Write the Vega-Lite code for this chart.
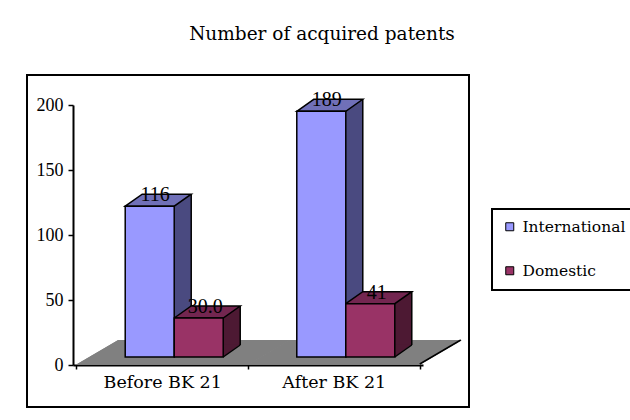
{
  "$schema": "https://vega.github.io/schema/vega-lite/v6.json",
  "width": 442,
  "height": 332,
  "autosize": {"type": "none"},
  "padding": {"left": 27, "top": 75, "right": 161, "bottom": 13},
  "background": "white",
  "title": {
    "text": "Number of acquired patents",
    "font": "DejaVu Serif",
    "fontSize": 18.5,
    "fontWeight": "normal",
    "color": "black",
    "anchor": "middle",
    "frame": "group",
    "dx": 74,
    "offset": 17,
    "baseline": "alphabetic"
  },
  "data": {
    "values": [
      {"period": "Before BK 21", "type": "International", "patents": 116, "label": "116"},
      {"period": "Before BK 21", "type": "Domestic", "patents": 30.0, "label": "30.0"},
      {"period": "After BK 21", "type": "International", "patents": 189, "label": "189"},
      {"period": "After BK 21", "type": "Domestic", "patents": 41, "label": "41"}
    ]
  },
  "encoding": {
    "x": {
      "field": "period",
      "type": "nominal",
      "sort": ["Before BK 21", "After BK 21"],
      "title": null,
      "scale": {"range": [46, 396], "paddingInner": 0, "paddingOuter": 0.02},
      "axis": {
        "orient": "bottom",
        "offset": -42,
        "tickBand": "extent",
        "domainColor": "black",
        "domainWidth": 2,
        "tickColor": "black",
        "tickWidth": 1.5,
        "tickSize": 4,
        "labelAngle": 0,
        "labelFont": "DejaVu Serif",
        "labelFontSize": 17.5,
        "labelColor": "black",
        "labelPadding": 4
      }
    },
    "y": {
      "field": "patents",
      "type": "quantitative",
      "title": null,
      "scale": {"domain": [0, 200], "range": [290, 30], "nice": false},
      "axis": {
        "orient": "left",
        "offset": -46,
        "values": [0, 50, 100, 150, 200],
        "grid": false,
        "domainColor": "black",
        "domainWidth": 2,
        "tickColor": "black",
        "tickWidth": 1.5,
        "tickSize": 5,
        "labelFont": "Liberation Serif",
        "labelFontSize": 18,
        "labelColor": "black",
        "labelPadding": 5,
        "title": null
      }
    }
  },
  "layer": [
    {
      "mark": {"type": "point", "shape": "M-85,-1L87,-1L128,-25L-44,-25Z", "size": 4, "filled": true, "fill": "#808080", "strokeWidth": 0, "opacity": 1},
      "encoding": {"y": {"datum": 0}}
    },
    {
      "transform": [{"filter": "datum.period === 'After BK 21' && datum.type === 'International'"}],
      "mark": {"type": "point", "shape": "M86,-1L127,-25", "size": 4, "filled": false, "stroke": "black", "strokeWidth": 1.5, "opacity": 1},
      "encoding": {"y": {"datum": 0}}
    },
    {
      "transform": [{"filter": "datum.type === 'International'"}],
      "mark": {"type": "bar", "width": 17, "xOffset": 20.5, "yOffset": -20, "y2Offset": -20, "fill": "#4A4A80", "strokeWidth": 0},
      "encoding": {"y2": {"datum": 0}}
    },
    {
      "transform": [{"filter": "datum.type === 'Domestic'"}],
      "mark": {"type": "bar", "width": 17, "xOffset": 69.5, "yOffset": -20, "y2Offset": -20, "fill": "#4D1933", "strokeWidth": 0},
      "encoding": {"y2": {"datum": 0}}
    },
    {
      "mark": {"type": "point", "size": 4, "filled": true, "strokeWidth": 0, "opacity": 1},
      "encoding": {
        "y": {"datum": 0},
        "shape": {"condition": {"test": "datum.type === 'International'", "value": "M12,-20.6L12,-8L29,-20.6Z"}, "value": "M61,-20.6L61,-8L78,-20.6Z"},
        "fill": {"condition": {"test": "datum.type === 'International'", "value": "#4A4A80"}, "value": "#4D1933"}
      }
    },
    {
      "mark": {"type": "point", "size": 4, "filled": false, "stroke": "black", "strokeWidth": 1.5, "opacity": 1},
      "encoding": {
        "y": {"datum": 0},
        "shape": {"condition": {"test": "datum.type === 'International'", "value": "M12,-8L29,-20"}, "value": "M61,-8L78,-20"}
      }
    },
    {
      "transform": [{"filter": "datum.type === 'International'"}],
      "mark": {"type": "rule", "xOffset": 29, "yOffset": -20, "y2Offset": -20, "stroke": "black", "strokeWidth": 1.5},
      "encoding": {"y2": {"datum": 0}}
    },
    {
      "transform": [{"filter": "datum.type === 'Domestic'"}],
      "mark": {"type": "rule", "xOffset": 78, "yOffset": -20, "y2Offset": -20, "stroke": "black", "strokeWidth": 1.5},
      "encoding": {"y2": {"datum": 0}}
    },
    {
      "mark": {"type": "point", "size": 4, "filled": true, "stroke": "black", "strokeWidth": 1.5, "opacity": 1},
      "encoding": {
        "shape": {"condition": {"test": "datum.type === 'International'", "value": "M-37,-8L-20,-20L29,-20L12,-8Z"}, "value": "M12,-8L29,-20L78,-20L61,-8Z"},
        "fill": {"condition": {"test": "datum.type === 'International'", "value": "#7070B8"}, "value": "#732650"}
      }
    },
    {
      "transform": [{"filter": "datum.type === 'International'"}],
      "mark": {"type": "bar", "width": 49, "xOffset": -12.5, "yOffset": -8, "y2Offset": -8, "stroke": "black", "strokeWidth": 1.5},
      "encoding": {
        "y2": {"datum": 0},
        "color": {
          "field": "type",
          "type": "nominal",
          "scale": {"domain": ["International", "Domestic"], "range": ["#9999FF", "#993366"]},
          "legend": {
            "orient": "none",
            "legendX": 465,
            "legendY": 134,
            "title": null,
            "strokeColor": "black",
            "fillColor": "white",
            "padding": 10,
            "rowPadding": 27,
            "symbolType": "square",
            "symbolSize": 64,
            "symbolStrokeColor": "black",
            "symbolStrokeWidth": 1,
            "symbolOpacity": 1,
            "labelFont": "DejaVu Serif",
            "labelFontSize": 15.5,
            "labelColor": "black",
            "labelOffset": 5,
            "labelLimit": 0
          }
        }
      }
    },
    {
      "transform": [{"filter": "datum.type === 'Domestic'"}],
      "mark": {"type": "bar", "width": 49, "xOffset": 36.5, "yOffset": -8, "y2Offset": -8, "stroke": "black", "strokeWidth": 1.5},
      "encoding": {
        "y2": {"datum": 0},
        "color": {"field": "type", "type": "nominal"}
      }
    },
    {
      "transform": [{"filter": "datum.type === 'International'"}],
      "mark": {"type": "text", "dx": -7, "dy": -19, "baseline": "middle", "align": "center", "font": "Liberation Serif", "fontSize": 20, "color": "black"},
      "encoding": {"text": {"field": "label"}}
    },
    {
      "transform": [{"filter": "datum.type === 'Domestic'"}],
      "mark": {"type": "text", "dx": 43, "dy": -19, "baseline": "middle", "align": "center", "font": "Liberation Serif", "fontSize": 20, "color": "black"},
      "encoding": {"text": {"field": "label"}}
    }
  ],
  "config": {
    "view": {"stroke": "black", "strokeWidth": 2},
    "font": "DejaVu Serif",
    "legend": {"strokeWidth": 2}
  }
}
